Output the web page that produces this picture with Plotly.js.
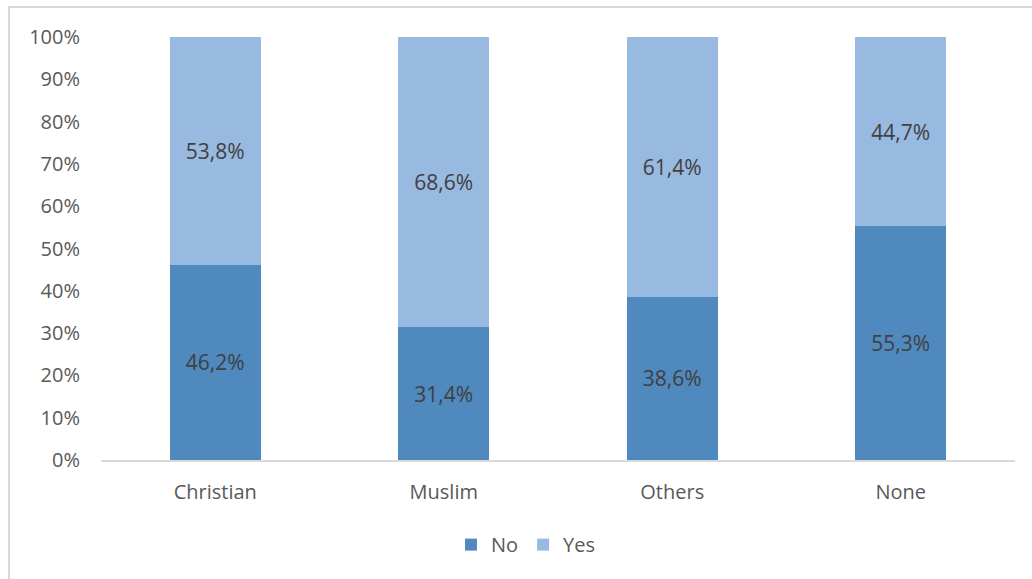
<!DOCTYPE html>
<html>
<head>
<meta charset="utf-8">
<script src="https://cdn.plot.ly/plotly-3.0.1.min.js"></script>
<style>
html,body{margin:0;padding:0;background:#fff;overflow:hidden;}
#chart{width:1032px;height:579px;position:absolute;left:0;top:0;}
#frame{position:absolute;left:8px;top:6px;width:1100px;height:700px;border:2px solid #d9d9d9;pointer-events:none;box-sizing:border-box;}
</style>
</head>
<body>
<div id="chart"></div>
<div id="frame"></div>
<script>
const categories = ["Christian", "Muslim", "Others", "None"];
const noValues = [46.2, 31.4, 38.6, 55.3];
const yesValues = [53.8, 68.6, 61.4, 44.7];
const yTicks = [0,10,20,30,40,50,60,70,80,90,100];

const fontFam = '"Open Sans", "Noto Sans", sans-serif';
const labelFont = {family: fontFam, size: 21, color: '#404040'};

const traces = [
  {type:'bar', name:'No', x:categories, y:noValues, marker:{color:'#4f89be'},
   texttemplate:'%{y:.1f}%', textposition:'inside', insidetextanchor:'middle',
   textfont:labelFont, hoverinfo:'skip'},
  {type:'bar', name:'Yes', x:categories, y:yesValues, marker:{color:'#98b9e0'},
   texttemplate:'%{y:.1f}%', textposition:'inside', insidetextanchor:'middle',
   textfont:labelFont, hoverinfo:'skip'}
];

const layout = {
  width:1032, height:579,
  margin:{l:101, r:17, t:37, b:119, pad:0},
  barmode:'stack', bargap:0.6,
  separators:',.',
  paper_bgcolor:'rgba(0,0,0,0)', plot_bgcolor:'#fff',
  font:{family:fontFam, size:20, color:'#595959'},
  showlegend:true,
  legend:{orientation:'h', x:0.465, xanchor:'center', y:-0.2, yanchor:'middle',
          font:{family:fontFam, size:20, color:'#595959'}, traceorder:'normal',
          itemwidth:30, tracegroupgap:0},
  xaxis:{showgrid:false, showline:true, linecolor:'#d9d9d9', linewidth:2,
         ticks:'', ticklabelstandoff:13, tickfont:{size:20, color:'#595959'}},
  yaxis:{range:[0,100], tickvals:yTicks, ticktext:yTicks.map(v=>v+'%'),
         showgrid:false, zeroline:false, showline:false, ticks:'',
         ticklabelstandoff:20, tickfont:{size:20, color:'#595959'}}
};

Plotly.newPlot('chart', traces, layout, {displayModeBar:false, staticPlot:true});
</script>
</body>
</html>
